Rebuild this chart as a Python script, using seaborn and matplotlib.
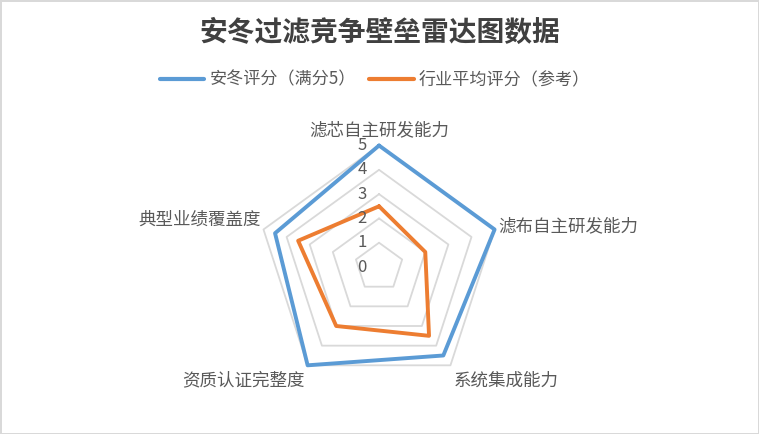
import numpy as np
import pandas as pd
import matplotlib
matplotlib.use("Agg")
import matplotlib.pyplot as plt
import seaborn as sns

categories = ["滤芯自主研发能力", "滤布自主研发能力", "系统集成能力", "资质认证完整度", "典型业绩覆盖度"]
andong_scores = [5, 5, 4.5, 5, 4.5]
industry_scores = [2.5, 2, 3.5, 3, 3.5]
series_names = ["安冬评分（满分5）", "行业平均评分（参考）"]
ring_levels = [0, 1, 2, 3, 4, 5]

sns.set_theme(style="white")
plt.rcParams["font.family"] = ["Noto Sans CJK SC", "DejaVu Sans"]

TEXT = "#595959"
GRID = "#d9d9d9"
colors = ["#5b9bd5", "#ed7d31"]

n = len(categories)
theta = np.linspace(0, 2 * np.pi, n, endpoint=False)
theta_closed = np.append(theta, theta[0])

# long table for seaborn, polygon closed by repeating the first point
rows = []
for name, vals in zip(series_names, [andong_scores, industry_scores]):
    vals_closed = list(vals) + [vals[0]]
    for i, (t, v) in enumerate(zip(theta_closed, vals_closed)):
        rows.append({"series": name, "order": i, "theta": t, "score": v})
df = pd.DataFrame(rows)

fig = plt.figure(figsize=(7.59, 4.34), dpi=100)
fig.patch.set_facecolor("white")
fig.patch.set_edgecolor(GRID)
fig.patch.set_linewidth(2)

ax = fig.add_axes([0.3393, 0.1048, 0.3202, 0.5599], projection="polar")
ax.set_theta_zero_location("N")
ax.set_theta_direction(-1)
ax.set_ylim(0, 5)
ax.grid(False)
ax.spines["polar"].set_visible(False)
ax.set_xticks([])
ax.set_yticks([])
ax.set_facecolor("none")

# pentagon rings
for lvl in ring_levels[1:]:
    ax.plot(theta_closed, [lvl] * (n + 1), color=GRID, lw=1.3, zorder=1, clip_on=False)

sns.lineplot(data=df, x="theta", y="score", hue="series", hue_order=series_names,
             palette=colors, sort=False, estimator=None, units="series",
             lw=2.8, ax=ax, zorder=3)
for line in ax.get_lines():
    line.set_clip_on(False)
ax.set_xlabel("")
ax.set_ylabel("")

# radial value labels along the top axis
for lvl in ring_levels:
    ax.annotate(str(lvl), xy=(0, lvl), xytext=(-9, 0), textcoords="offset points",
                ha="right", va="center", fontsize=12, color=TEXT, zorder=4)

# category labels
offsets = [((0, 11), "center"), ((3, 2), "left"), ((2.6, -11), "left"),
           ((-2.5, -11), "right"), ((-2, 7), "right")]
for t, label, (off, ha) in zip(theta, categories, offsets):
    ax.annotate(label, xy=(t, 5), xytext=off, textcoords="offset points",
                ha=ha, va="center", fontsize=12.6, color=TEXT, annotation_clip=False)

fig.suptitle("安冬过滤竞争壁垒雷达图数据", x=0.5, y=0.924, va="center",
             fontsize=20, fontweight="bold", color="#404040")

sns.move_legend(ax, "center", bbox_to_anchor=(0.494, 0.816), bbox_transform=fig.transFigure,
                ncol=2, frameon=False, title=None, fontsize=12.3, handlelength=2.6,
                handletextpad=0.3, columnspacing=0.8, labelcolor=TEXT)
for h in ax.get_legend().get_lines():
    h.set_linewidth(3)

fig.savefig("out.png", dpi=100, facecolor=fig.get_facecolor(), edgecolor=fig.get_edgecolor())
